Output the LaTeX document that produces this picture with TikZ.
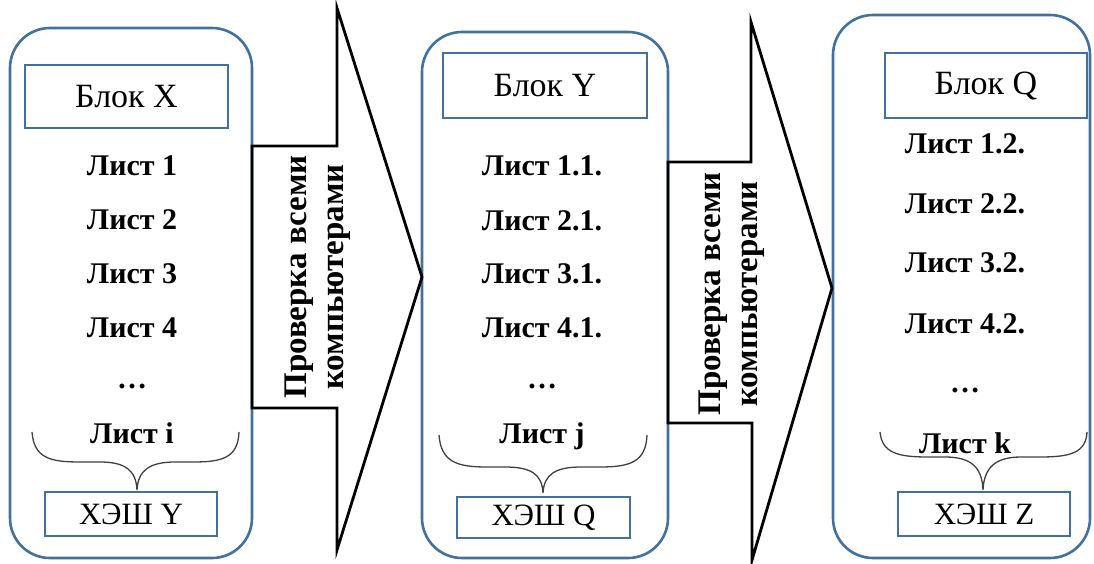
\documentclass[tikz,border=0pt]{standalone}
\usepackage{fontspec}
\setmainfont{Liberation Serif}
\begin{document}
\begin{tikzpicture}[x=1pt,y=-1pt,
  blockframe/.style={draw=frameblue, line width=2.6pt, rounded corners=40pt, inner sep=0pt},
  titlebox/.style={draw=frameblue, line width=2.6pt, inner sep=0pt, font=\fontsize{34}{36}\selectfont},
  hashbox/.style={draw=frameblue, line width=2.6pt, inner sep=0pt, font=\fontsize{31}{33}\selectfont},
  leaf/.style={anchor=base, inner sep=0pt, font=\fontsize{30}{32}\selectfont\bfseries},
  bracket/.style={draw=bracegray, line width=1.3pt},
  arrowbody/.style={draw=black, line width=2.8pt, line join=miter},
  arrowtext/.style={rotate=90, align=center, inner sep=0pt, font=\fontsize{33}{37}\selectfont\bfseries}]
\definecolor{frameblue}{RGB}{65,113,156}
\definecolor{bracegray}{RGB}{64,64,64}
\useasboundingbox (0,0) rectangle (1094,563);

% ---- three blocks ----
\node[blockframe, minimum width=242pt, minimum height=530pt] (b1) at (131,293) {};
\node[blockframe, minimum width=246pt, minimum height=526pt] (b2) at (545,295) {};
\node[blockframe, minimum width=257pt, minimum height=543pt] (b3) at (961.5,286.5) {};

% ---- titles ----
\node[titlebox, minimum width=203pt, minimum height=63pt] (t1) at (126.5,96.5) {Блок X};
\node[titlebox, minimum width=204pt, minimum height=65pt] (t2) at (545,85.5) {Блок Y};
\node[titlebox, minimum width=202pt, minimum height=65pt] (t3) at (986,85.5) {Блок Q};

% ---- hash boxes ----
\node[hashbox, minimum width=172pt, minimum height=44pt] (h1) at (131,514) {ХЭШ Y};
\node[hashbox, minimum width=173pt, minimum height=41pt] (h2) at (543.5,517.5) {ХЭШ Q};
\node[hashbox, minimum width=172pt, minimum height=44pt] (h3) at (984,514) {ХЭШ Z};

% ---- leaves, block X ----
\node[leaf] (l11) at (132,175) {Лист 1};
\node[leaf] (l12) at (132,229) {Лист 2};
\node[leaf] (l13) at (132,283) {Лист 3};
\node[leaf] (l14) at (132,337) {Лист 4};
\node[leaf] (l15) at (132,388) {…};
\node[leaf] (l16) at (132,443) {Лист i};

% ---- leaves, block Y ----
\node[leaf] (l21) at (542,175) {Лист 1.1.};
\node[leaf] (l22) at (542,230) {Лист 2.1.};
\node[leaf] (l23) at (542,283) {Лист 3.1.};
\node[leaf] (l24) at (542,337) {Лист 4.1.};
\node[leaf] (l25) at (542,388) {…};
\node[leaf] (l26) at (542,443) {Лист j};

% ---- leaves, block Q ----
\node[leaf] (l31) at (965,153) {Лист 1.2.};
\node[leaf] (l32) at (965,213) {Лист 2.2.};
\node[leaf] (l33) at (965,272) {Лист 3.2.};
\node[leaf] (l34) at (965,333) {Лист 4.2.};
\node[leaf] (l35) at (965,392) {…};
\node[leaf] (l36) at (965,453) {Лист k};

% ---- braces over the leaves ----
\draw[bracket] (32,432) .. controls (34,458) and (50,462) .. (80,462)
  -- (100,462) .. controls (125,462) and (136,470) .. (137,490)
  .. controls (138,470) and (150,462) .. (175,462)
  -- (193,462) .. controls (222,462) and (238,458) .. (239,432);
\draw[bracket] (439,435) .. controls (441,462) and (457,467) .. (487,467)
  -- (505,467) .. controls (531,467) and (542,474) .. (543,493)
  .. controls (544,474) and (556,467) .. (581,467)
  -- (600,467) .. controls (630,467) and (646,462) .. (647,435);
\draw[bracket] (880,432) .. controls (882,453) and (898,457) .. (928,457)
  -- (945,457) .. controls (971,457) and (982,467) .. (983,490)
  .. controls (984,467) and (996,457) .. (1021,457)
  -- (1040,457) .. controls (1070,457) and (1086,453) .. (1087,432);

% ---- block arrows ----
\coordinate (a1tip) at (422,277);
\coordinate (a2tip) at (832,288);
\draw[arrowbody] (252,146) -- (337,146) -- (337,8) -- (a1tip) -- (337,550)
  -- (337,408) -- (252,408) -- cycle;
\draw[arrowbody] (668,162) -- (751,162) -- (751,22) -- (a2tip) -- (752,560)
  -- (752,423) -- (668,423) -- cycle;

\node[arrowtext] (c1) at (318,277) {Проверка всеми\\компьютерами};
\node[arrowtext] (c2) at (732,294) {Проверка всеми\\компьютерами};
\end{tikzpicture}
\end{document}
